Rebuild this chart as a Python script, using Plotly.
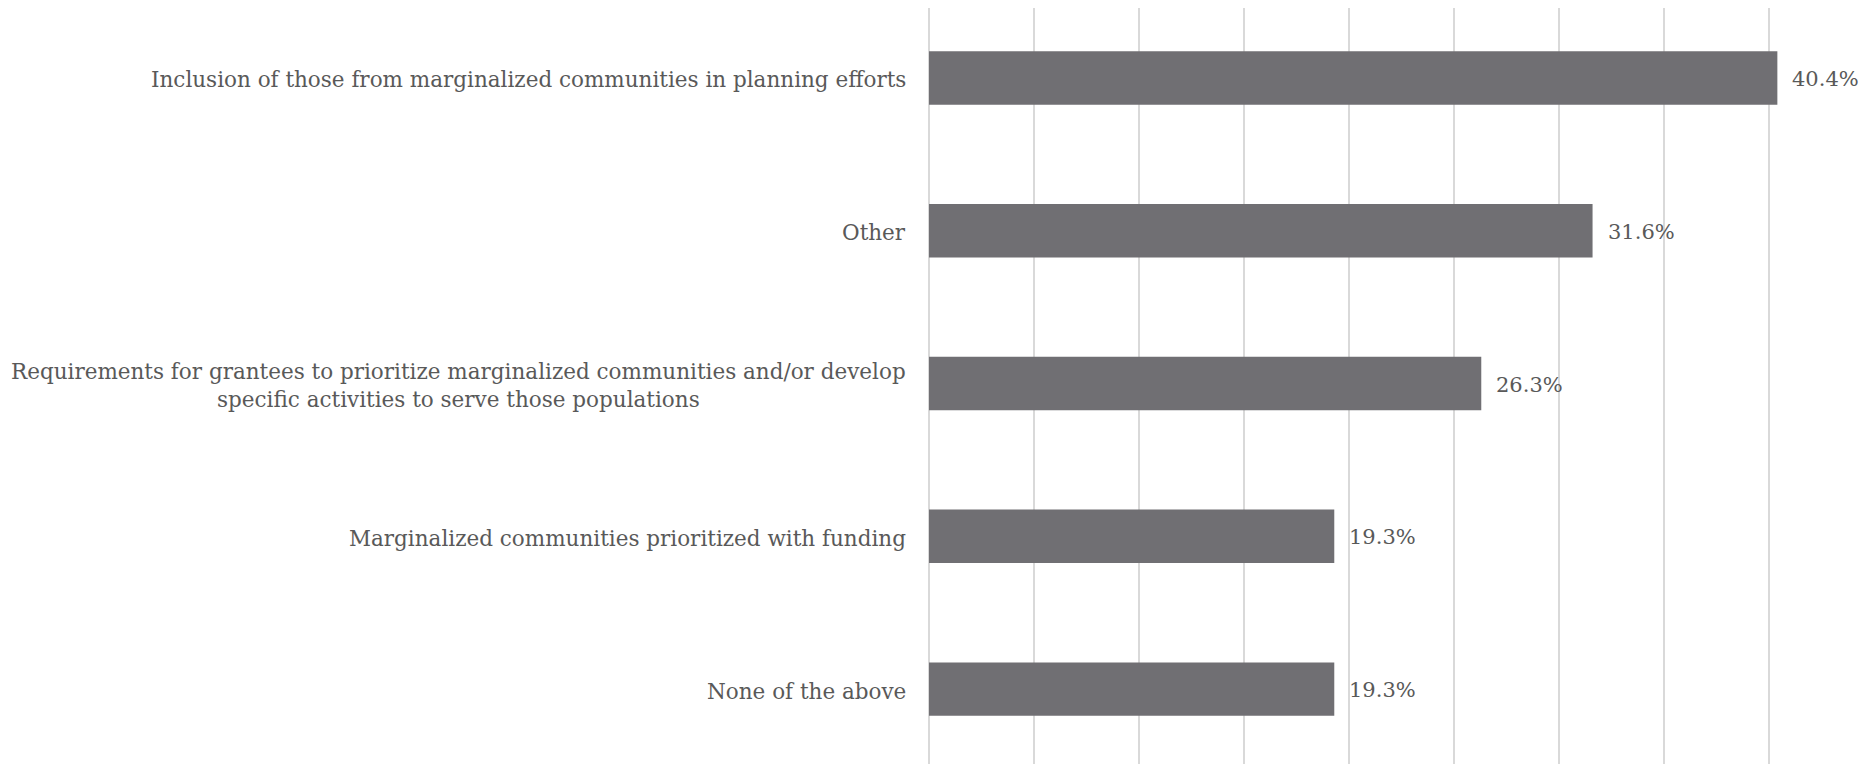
import plotly.graph_objects as go

categories = [
    "Inclusion of those from marginalized communities in planning efforts",
    "Other",
    "Requirements for grantees to prioritize marginalized communities and/or develop<br>specific activities to serve those populations",
    "Marginalized communities prioritized with funding",
    "None of the above",
]
values = [40.4, 31.6, 26.3, 19.3, 19.3]
value_labels = ["40.4%", "31.6%", "26.3%", "19.3%", "19.3%"]

FONT = "DejaVu Serif"
TXT = "#595959"
W, H = 1867, 756
x0 = 921 / W

fig = go.Figure(go.Bar(
    x=values, y=list(range(len(categories))), orientation="h",
    marker=dict(color="#706F73", line=dict(width=0)),
    width=0.35,
    hoverinfo="x+y",
))

for i, c in enumerate(categories):
    fig.add_annotation(
        x=x0, xref="paper", y=i, yref="y", text=c, showarrow=False,
        xanchor="right", yanchor="middle", align="center", xshift=-21, yshift=-2,
        font=dict(family=FONT, size=21.5, color=TXT),
    )

for i, (v, t) in enumerate(zip(values, value_labels)):
    fig.add_annotation(
        x=v, xref="x", y=i, yref="y", text=t, showarrow=False,
        xanchor="left", yanchor="middle", xshift=13, yshift=-1,
        font=dict(family=FONT, size=21, color=TXT),
    )

fig.update_layout(
    width=W, height=H,
    margin=dict(l=0, r=0, t=0, b=0),
    paper_bgcolor="white", plot_bgcolor="white",
    showlegend=False,
    xaxis=dict(domain=[x0, 1.0], range=[0, 45.05], dtick=5, showgrid=True,
               gridcolor="#D9D9D9", gridwidth=1.5, zeroline=True,
               zerolinecolor="#D9D9D9", zerolinewidth=1.5,
               showticklabels=False, showline=False, fixedrange=True),
    yaxis=dict(range=[4.49, -0.458], showticklabels=False, showgrid=False,
               zeroline=False, showline=False),
)

fig.write_html("out.html")
